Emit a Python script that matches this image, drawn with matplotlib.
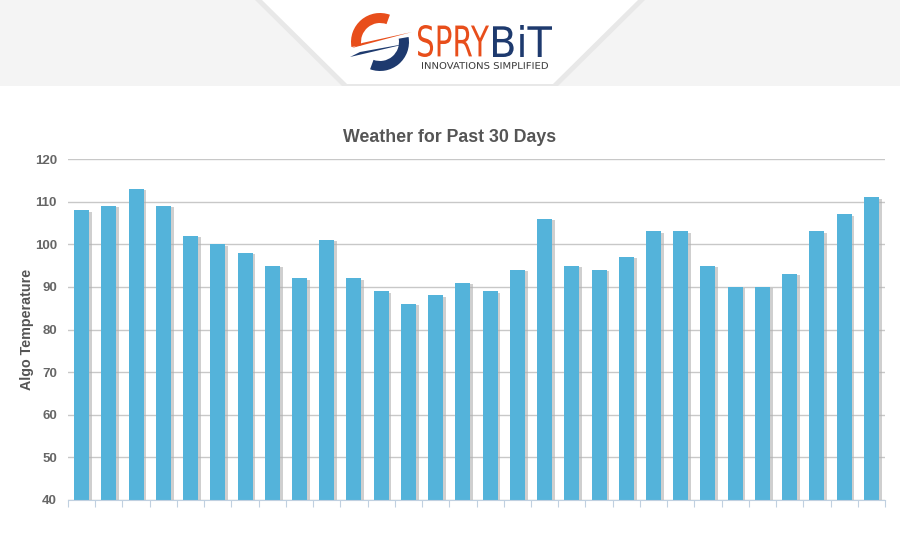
import numpy as np
import matplotlib.pyplot as plt
from matplotlib.patches import Polygon, Wedge, PathPatch
from matplotlib.textpath import TextPath
from matplotlib.font_manager import FontProperties
from matplotlib.transforms import Affine2D
import matplotlib.patheffects as pe

plt.rcParams['font.family'] = ['Liberation Sans', 'DejaVu Sans']

days = list(range(1, 31))
temps = [108, 109, 113, 109, 102, 100, 98, 95, 92, 101,
         92, 89, 86, 88, 91, 89, 94, 106, 95, 94,
         97, 103, 103, 95, 90, 90, 93, 103, 107, 111]
yticks = [40, 50, 60, 70, 80, 90, 100, 110, 120]

fig = plt.figure(figsize=(9, 5.4), dpi=100)
fig.patch.set_facecolor('white')

# Header band with a white trapezoid behind the logo
hdr = fig.add_axes((0, 0, 1, 1), zorder=0)
hdr.set_xlim(0, 900)
hdr.set_ylim(540, 0)
hdr.axis('off')
hdr.add_patch(Polygon([(0, 0), (900, 0), (900, 86), (0, 86)], closed=True,
                      facecolor='#f4f4f4', edgecolor='none'))
hdr.add_patch(Polygon([(255, 0), (645, 0), (558, 86), (342, 86)], closed=True,
                      facecolor='#e8e8e8', edgecolor='none'))
hdr.add_patch(Polygon([(262, 0), (638, 0), (553, 84), (347, 84)], closed=True,
                      facecolor='white', edgecolor='none'))
hdr.add_patch(Polygon([(0, 86), (900, 86), (900, 540), (0, 540)], closed=True,
                      facecolor='white', edgecolor='none'))


def squeezed_text(s, x0, x1, ytop, ybot, color, weight='normal'):
    # text path stretched to fill a given pixel box
    tp = TextPath((0, 0), s, size=10, prop=FontProperties(family='DejaVu Sans', weight=weight))
    ext = tp.get_extents()
    sx = (x1 - x0) / ext.width
    sy = (ybot - ytop) / ext.height
    tr = Affine2D().translate(-ext.x0, -ext.y0).scale(sx, -sy).translate(x0, ybot)
    hdr.add_patch(PathPatch(tr.transform_path(tp), facecolor=color, edgecolor='none'))


# Swoosh icon
orange = '#e84e1b'
navy = '#1e3a6e'
hdr.add_patch(Wedge((380, 42), 29, 170, 290, width=10, facecolor=orange, edgecolor='none'))
hdr.add_patch(Wedge((380, 42), 29, -10, 110, width=10, facecolor=navy, edgecolor='none'))
hdr.add_patch(Polygon([(352, 48), (412, 32), (362, 43)], closed=True,
                      facecolor=orange, edgecolor='none'))
hdr.add_patch(Polygon([(350, 57), (410, 43), (360, 52)], closed=True,
                      facecolor=navy, edgecolor='none'))

squeezed_text('SPRY', 418, 489, 25, 57, orange)
squeezed_text('BiT', 493, 552, 25, 57, navy)
squeezed_text('INNOVATIONS SIMPLIFIED', 422, 548, 62, 69, '#3a3a3a')

# Chart
ax = fig.add_axes((68 / 900, 40 / 540, 817 / 900, 341 / 540), zorder=1)
ax.set_facecolor('none')
x = np.arange(len(days))
shadow = [pe.SimplePatchShadow(offset=(2, -1), shadow_rgbFace='#b0b0b0', alpha=0.6),
          pe.Normal()]
bars = ax.bar(x, temps, width=0.55, bottom=0, color='#54b3da', edgecolor='none', zorder=3)
for b in bars:
    b.set_path_effects(shadow)

ax.set_xlim(-0.5, len(days) - 0.5)
ax.set_ylim(40, 120)
ax.set_yticks(yticks)
ax.set_xticks(np.arange(-0.5, len(days), 1.0))
ax.set_xticklabels([])
ax.tick_params(axis='x', length=5, color='#c0d0e0', direction='out')
ax.tick_params(axis='y', length=0, pad=8, labelsize=9.5, labelcolor='#666666')
for lbl in ax.get_yticklabels():
    lbl.set_fontweight('bold')
ax.grid(axis='y', color='#c8c8c8', linewidth=1, zorder=0)
for s in ['top', 'right', 'left']:
    ax.spines[s].set_visible(False)
ax.spines['bottom'].set_color('#c0d0e0')
ax.spines['bottom'].set_zorder(4)

fig.text(0.5, 1 - 137 / 540, 'Weather for Past 30 Days', fontsize=12.8, fontweight='bold',
         color='#555555', ha='center', va='center')
fig.text(27 / 900, 1 - 329 / 540, 'Algo Temperature', rotation=90, fontsize=10.3,
         fontweight='bold', color='#555555', ha='center', va='center')

fig.savefig('out.png', dpi=100)
